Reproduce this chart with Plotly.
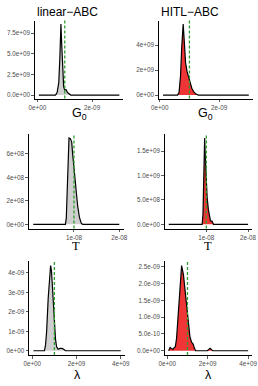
import numpy as np
import plotly.graph_objects as go

W, H = 258, 386

# ---------------- data ----------------
# G0 : x in units of 1e-9, density in units of 1e9
g0_scale_x, g0_scale_y = 1e-9, 1e9
g0_lin_x = [0.05, 0.66, 0.72, 0.78, 0.82, 0.86, 0.89, 0.92, 0.96, 1.00, 1.05, 1.10, 1.17, 1.22, 3.0]
g0_lin_y = [0, 0, 0.3, 1.5, 4.5, 8.6, 6.0, 2.5, 1.0, 0.6, 0.65, 0.3, 0.05, 0, 0]
g0_hitl_x = [0.11, 0.60, 0.65, 0.70, 0.74, 0.79, 0.83, 0.87, 0.92, 0.97, 1.02, 1.08, 1.15, 1.22, 1.30, 3.0]
g0_hitl_y = [0, 0, 0.2, 1.5, 3.8, 5.7, 4.2, 2.6, 1.9, 1.5, 1.0, 0.55, 0.25, 0.08, 0, 0]

# T : x in units of 1e-8; density 1e8 (linear) and 1e9 (HITL)
t_scale_x = 1e-8
t_lin_scale_y, t_hitl_scale_y = 1e8, 1e9
t_lin_x = [0.1, 0.81, 0.83, 0.85, 0.87, 0.89, 0.92, 0.95, 0.97, 1.00, 1.04, 1.08, 1.12, 1.16, 1.19, 2.0]
t_lin_y = [0, 0, 0.5, 3.0, 6.5, 7.35, 7.3, 7.0, 6.0, 4.6, 3.0, 1.6, 0.6, 0.1, 0, 0]
t_hitl_x = [0.1, 0.90, 0.92, 0.94, 0.96, 0.98, 1.00, 1.02, 1.05, 1.08, 1.10, 1.14, 1.17, 2.0]
t_hitl_y = [0, 0, 0.2, 1.0, 1.77, 1.3, 0.8, 0.55, 0.3, 0.1, 0.07, 0.06, 0, 0]

# lambda : x in units of 1e9, density in units of 1e-9
lam_scale_x, lam_scale_y = 1e9, 1e-9
lam_lin_x = [0.05, 0.55, 0.60, 0.65, 0.72, 0.78, 0.83, 0.87, 0.91, 0.95, 1.00, 1.05, 1.10, 1.17, 1.25, 1.35, 1.42, 1.50, 4.0]
lam_lin_y = [0, 0, 0.3, 1.0, 2.7, 3.8, 4.38, 4.1, 3.2, 2.3, 1.4, 0.6, 0.2, 0.08, 0.12, 0.12, 0.08, 0, 0]
lam_hitl_x = [0.07, 0.10, 0.14, 0.20, 0.27, 0.34, 0.40, 0.46, 0.55, 0.63, 0.71, 0.80, 0.88, 0.96, 1.04, 1.12,
              1.20, 1.28, 1.34, 1.40, 1.98, 2.06, 2.12, 2.18, 2.25, 4.0]
lam_hitl_y = [0, 0.05, 0.1, 0.07, 0.04, 0.09, 0.12, 0.37, 1.17, 2.07, 2.54, 2.27, 1.77, 1.37, 0.87, 0.42,
              0.26, 0.2, 0.08, 0, 0, 0.04, 0.07, 0.04, 0, 0]

true_g0, true_T, true_lam = 1e-9, 1e-8, 1e9

# tick values and labels
g0_xticks = [0, 2e-9]
g0_xlabels = ["0e+00", "2e-09"]
t_xticks = [1e-8, 2e-8]
t_xlabels = ["1e-08", "2e-08"]
lam_xticks = [0, 2e9, 4e9]
lam_xlabels = ["0e+00", "2e+09", "4e+09"]

g0_lin_yticks = [0, 2.5e9, 5e9, 7.5e9]
g0_lin_ylabels = ["0.0e+00", "2.5e+09", "5.0e+09", "7.5e+09"]
g0_hitl_yticks = [0, 2e9, 4e9]
g0_hitl_ylabels = ["0e+00", "2e+09", "4e+09"]
t_lin_yticks = [0, 2e8, 4e8, 6e8]
t_lin_ylabels = ["0e+00", "2e+08", "4e+08", "6e+08"]
t_hitl_yticks = [0, 5e8, 1e9, 1.5e9]
t_hitl_ylabels = ["0.0e+00", "5.0e+08", "1.0e+09", "1.5e+09"]
lam_lin_yticks = [0, 1e-9, 2e-9, 3e-9, 4e-9]
lam_lin_ylabels = ["0e+00", "1e-09", "2e-09", "3e-09", "4e-09"]
lam_hitl_yticks = [0, 5e-10, 1e-9, 1.5e-9, 2e-9, 2.5e-9]
lam_hitl_ylabels = ["0.0e+00", "5.0e-10", "1.0e-09", "1.5e-09", "2.0e-09", "2.5e-09"]

column_titles = ["linear\u2212ABC", "HITL\u2212ABC"]
x_titles = ["G<sub>0</sub>", "T", "\u03bb"]

# ---------------- styling / layout ----------------
LIN_FILL = "#CFCFCF"
HITL_FILL = "#EF3535"
GREEN = "#2E9E2E"
FONT = "Liberation Sans, Arial, sans-serif"

panels = [
    dict(x=g0_lin_x, y=g0_lin_y, sx=g0_scale_x, sy=g0_scale_y, fill=LIN_FILL, true=true_g0,
         xt=g0_xticks, xl=g0_xlabels, yt=g0_lin_yticks, yl=g0_lin_ylabels, px=(34.8, 123.4), py=(20.5, 98.6)),
    dict(x=g0_hitl_x, y=g0_hitl_y, sx=g0_scale_x, sy=g0_scale_y, fill=HITL_FILL, true=true_g0,
         xt=g0_xticks, xl=g0_xlabels, yt=g0_hitl_yticks, yl=g0_hitl_ylabels, px=(158.7, 253.1), py=(20.5, 98.6)),
    dict(x=t_lin_x, y=t_lin_y, sx=t_scale_x, sy=t_lin_scale_y, fill=LIN_FILL, true=true_T,
         xt=t_xticks, xl=t_xlabels, yt=t_lin_yticks, yl=t_lin_ylabels, px=(28.9, 123.6), py=(133.7, 228.6)),
    dict(x=t_hitl_x, y=t_hitl_y, sx=t_scale_x, sy=t_hitl_scale_y, fill=HITL_FILL, true=true_T,
         xt=t_xticks, xl=t_xlabels, yt=t_hitl_yticks, yl=t_hitl_ylabels, px=(164.8, 252.0), py=(133.7, 228.6)),
    dict(x=lam_lin_x, y=lam_lin_y, sx=lam_scale_x, sy=lam_scale_y, fill=LIN_FILL, true=true_lam,
         xt=lam_xticks, xl=lam_xlabels, yt=lam_lin_yticks, yl=lam_lin_ylabels, px=(29.0, 125.1), py=(261.3, 355.0)),
    dict(x=lam_hitl_x, y=lam_hitl_y, sx=lam_scale_x, sy=lam_scale_y, fill=HITL_FILL, true=true_lam,
         xt=lam_xticks, xl=lam_xlabels, yt=lam_hitl_yticks, yl=lam_hitl_ylabels, px=(164.7, 252.1), py=(261.3, 355.0)),
]

fig = go.Figure()
layout = dict(width=W, height=H, margin=dict(l=0, r=0, t=0, b=0, pad=0, autoexpand=False),
              paper_bgcolor="white", plot_bgcolor="white", showlegend=False,
              font=dict(family=FONT, color="black"))
shapes, annotations = [], []

def expand(lo, hi, frac=0.05):
    d = (hi - lo) * frac
    return [lo - d, hi + d]

for i, p in enumerate(panels, start=1):
    xs = np.array(p["x"]) * p["sx"]
    ys = np.array(p["y"]) * p["sy"]
    xa = "x" if i == 1 else f"x{i}"
    ya = "y" if i == 1 else f"y{i}"
    fig.add_trace(go.Scatter(x=xs, y=ys, mode="lines", fill="tozeroy", fillcolor=p["fill"],
                             line=dict(color="black", width=1.2), xaxis=xa, yaxis=ya,
                             hoverinfo="skip"))
    xr = expand(xs.min(), xs.max())
    yr = expand(0, ys.max())
    common = dict(showline=True, linecolor="black", linewidth=1, ticks="outside", ticklen=2.5,
                  tickwidth=0.8, tickcolor="#333333", showgrid=False, zeroline=False,
                  automargin=False,
                  tickfont=dict(size=6.3, color="#4D4D4D", family=FONT))
    layout[f"xaxis{'' if i == 1 else i}"] = dict(
        domain=[p["px"][0] / W, p["px"][1] / W], range=xr, anchor=ya,
        tickmode="array", tickvals=p["xt"], ticktext=p["xl"], **common)
    layout[f"yaxis{'' if i == 1 else i}"] = dict(
        domain=[1 - p["py"][1] / H, 1 - p["py"][0] / H], range=yr, anchor=xa,
        tickmode="array", tickvals=p["yt"], ticktext=p["yl"], **common)
    shapes.append(dict(type="line", xref=xa, yref=f"{ya} domain", x0=p["true"], x1=p["true"],
                       y0=0, y1=1, line=dict(color=GREEN, width=1.3, dash="3px,2px")))
    # axis title
    row = (i - 1) // 2
    ypix = [114.5, 245.5, 375.0][row]
    tfont = dict(size=12.5, color="black",
                 family="Liberation Serif, serif" if row == 1 else FONT)
    annotations.append(dict(text=x_titles[row], x=(p["px"][0] + p["px"][1]) / 2 / W, y=1 - ypix / H,
                            xref="paper", yref="paper", xanchor="center", yanchor="middle",
                            showarrow=False, font=tfont))
    if row == 0:
        annotations.append(dict(text=column_titles[(i - 1) % 2], x=p["px"][0] / W, y=1 - 11.7 / H,
                                xref="paper", yref="paper", xanchor="left", yanchor="middle",
                                showarrow=False, font=dict(size=12, color="black", family=FONT)))

layout["shapes"] = shapes
layout["annotations"] = annotations
fig.update_layout(**layout)
fig.write_html("out.html",
               config={"displayModeBar": False, "staticPlot": True},
               post_script="document.body.style.margin='0';document.body.style.padding='0';"
                           "document.documentElement.style.overflow='hidden';")
